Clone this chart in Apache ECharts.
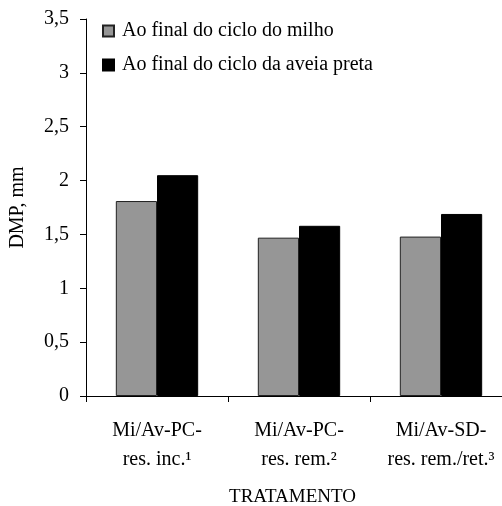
<!DOCTYPE html>
<html><head><meta charset="utf-8">
<script src="https://cdn.jsdelivr.net/npm/echarts@6/dist/echarts.min.js"></script>
<style>html,body{margin:0;padding:0;background:#fff}#c{width:502px;height:506px}</style>
</head><body><div id="c"></div>
<script>
var categories = ['Mi/Av-PC-\nres. inc.\u00B9', 'Mi/Av-PC-\nres. rem.\u00B2', 'Mi/Av-SD-\nres. rem./ret.\u00B3'];
var seriesNames = ['Ao final do ciclo do milho', 'Ao final do ciclo da aveia preta'];
var milho = [1.81, 1.47, 1.48];
var aveia = [2.05, 1.58, 1.69];
var font = '"Liberation Serif", "Times New Roman", serif';
var chart = echarts.init(document.getElementById('c'));
chart.setOption({
  animation: false,
  textStyle: {fontFamily: font},
  grid: {left: 86, top: 19, width: 426, height: 377, containLabel: false, outerBoundsMode: 'none'},
  legend: {
    left: 97, top: 16, orient: 'vertical', itemGap: 14,
    itemWidth: 11, itemHeight: 11, icon: 'rect',
    textStyle: {fontFamily: font, fontSize: 20, color: '#000', padding: [0,0,0,3]},
    data: seriesNames
  },
  xAxis: {
    type: 'category', data: categories,
    name: 'TRATAMENTO', nameLocation: 'middle', nameGap: 92, nameMoveOverlap: false,
    nameTextStyle: {fontFamily: font, fontSize: 19, color: '#000', padding: [0,0,0,-13]},
    axisLine: {lineStyle: {color: '#000', width: 1}},
    axisTick: {show: true, length: 6, lineStyle: {color: '#000'}},
    axisLabel: {interval: 0, hideOverlap: false, fontFamily: font, fontSize: 20, color: '#000', margin: 20, lineHeight: 29}
  },
  yAxis: {
    type: 'value', min: 0, max: 3.5, interval: 0.5,
    name: 'DMP, mm', nameLocation: 'middle', nameGap: 58, nameMoveOverlap: false,
    nameTextStyle: {fontFamily: font, fontSize: 20, color: '#000'},
    axisLine: {show: true, lineStyle: {color: '#000', width: 1}},
    axisTick: {show: true, length: 6, lineStyle: {color: '#000'}},
    splitLine: {show: false},
    axisLabel: {fontFamily: font, fontSize: 20, color: '#000', margin: 17,
      formatter: function(v){ return String(v).replace('.', ','); }}
  },
  series: [
    {name: seriesNames[0], type: 'bar', data: milho, barGap: 0, barCategoryGap: '42%',
     itemStyle: {color: '#969696', borderColor: '#222', borderWidth: 1}},
    {name: seriesNames[1], type: 'bar', data: aveia, barGap: 0, barCategoryGap: '42%',
     itemStyle: {color: '#000', borderColor: '#000', borderWidth: 1}}
  ]
});
</script></body></html>
